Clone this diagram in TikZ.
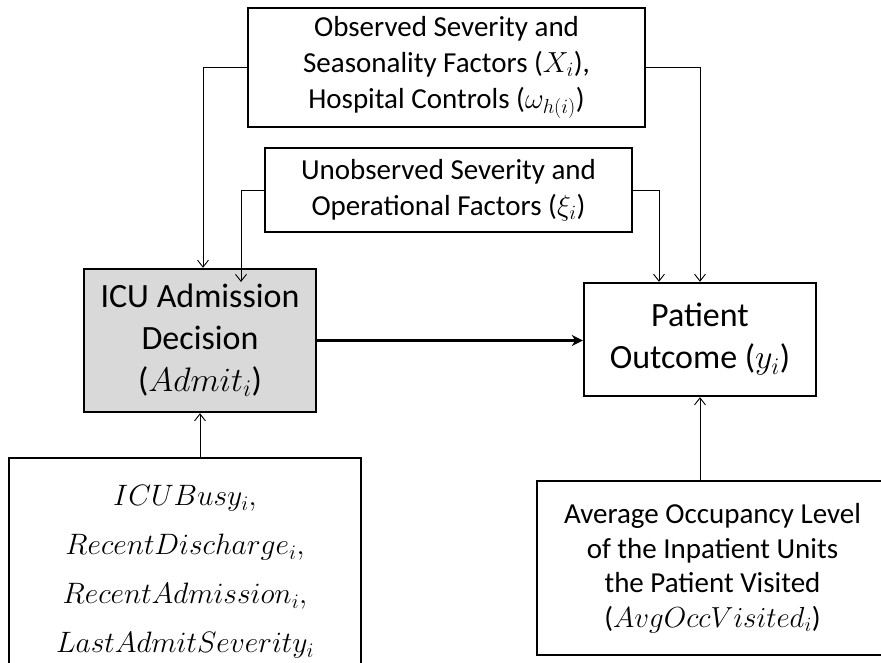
\documentclass[tikz,border=0pt]{standalone}
\usepackage{fix-cm}
\usepackage{fontspec}
\setmainfont{Carlito}
\usetikzlibrary{arrows.meta}
\definecolor{boxgray}{HTML}{D9D9D9}
\begin{document}
\begin{tikzpicture}[x=1pt,y=-1pt,
  box/.style={draw, line width=2.4pt, align=center, inner sep=0pt},
  smallfont/.style={font=\fontsize{29}{36}\selectfont},
  bigfont/.style={font=\fontsize{34}{42}\selectfont},
  mathfont/.style={font=\fontsize{29.5}{49}\selectfont},
  conn/.style={line width=0.9pt, -{Straight Barb[length=7pt,width=11pt]}},
  mainarrow/.style={line width=2.6pt, -{Stealth[length=11pt,width=11pt]}}]
\useasboundingbox (0,0) rectangle (881,662);
\clip (0,0) rectangle (881,662);

\node[box, smallfont, minimum width=397pt, minimum height=119pt] (obs) at (446.5,67.5)
  {Observed Severity and\\ Seasonality Factors ($X_i$),\\ Hospital Controls ($\omega_{h(i)}$)};
\node[box, smallfont, minimum width=367pt, minimum height=84pt] (unobs) at (448.5,190)
  {Unobserved Severity and\\ Operational Factors ($\xi_i$)};
\node[box, bigfont, fill=boxgray, minimum width=232pt, minimum height=143pt] (icu) at (200,340.5)
  {ICU Admission\\ Decision\\ ($Admit_i$)};
\node[box, bigfont, minimum width=232pt, minimum height=113pt] (pat) at (700,339.5)
  {Patient\\ Outcome ($y_i$)};
\node[box, mathfont, minimum width=352pt, minimum height=228pt] (instr) at (185,572)
  {$ICUBusy_i,$\\ $RecentDischarge_i,$\\ $RecentAdmission_i,$\\ $LastAdmitSeverity_i$};
\node[box, font=\fontsize{29}{34.5}\selectfont, minimum width=351pt, minimum height=174pt] (occ) at (712.5,568)
  {Average Occupancy Level\\ of the Inpatient Units\\ the Patient Visited\\ ($AvgOccVisited_i$)};

\coordinate (obsL) at (203,67);
\coordinate (obsR) at (700,67);
\coordinate (unL) at (241,190);
\coordinate (unR) at (659,190);
\coordinate (unEnd) at (241,282);

\draw[conn] (obs.west |- obsL) -- (obsL) -- (obsL |- icu.north);
\draw[conn] (unobs.west |- unL) -- (unL) -- (unEnd);
\draw[conn] (obs.east |- obsR) -- (obsR) -- (obsR |- pat.north);
\draw[conn] (unobs.east |- unR) -- (unR) -- (unR |- pat.north);
\draw[mainarrow] (icu.east) -- (pat.west |- icu.east);
\draw[conn] (instr.north -| icu.south) -- (icu.south);
\draw[conn] (occ.north -| pat.south) -- (pat.south);
\end{tikzpicture}
\end{document}
